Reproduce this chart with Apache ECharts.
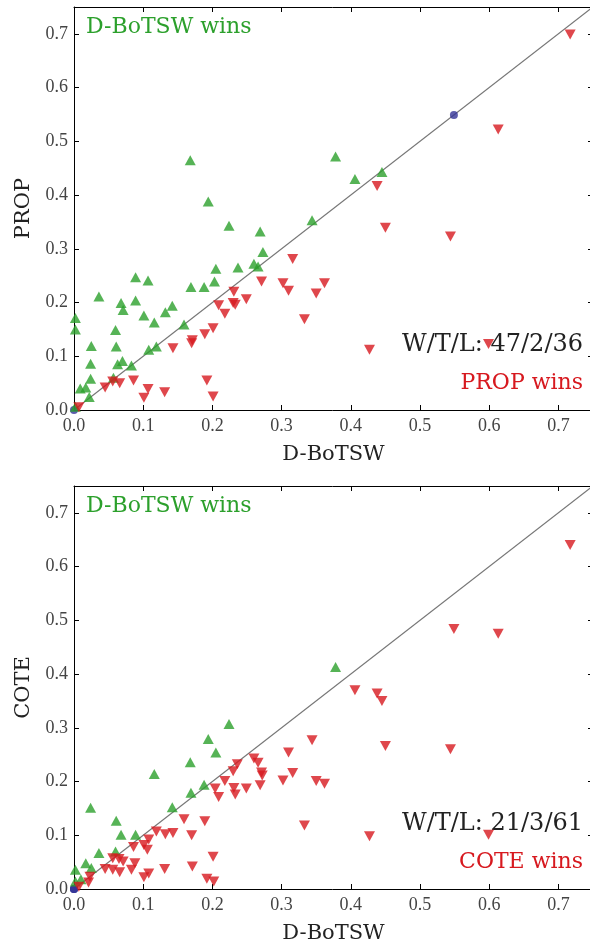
<!DOCTYPE html>
<html><head><meta charset="utf-8">
<script src="https://cdn.jsdelivr.net/npm/echarts@6/dist/echarts.min.js"></script>
<style>html,body{margin:0;padding:0;background:#fff}#c{width:590px;height:944px}</style>
</head><body><div id="c"></div>
<script>
// ---- data: [D-BoTSW, other] ----
const propTop_dboWins = [
 [0.194,0.388],[0.224,0.343],[0.269,0.332],[0.344,0.353],[0.273,0.294],[0.260,0.272],[0.266,0.267],
 [0.237,0.265],[0.205,0.263],[0.203,0.239],[0.169,0.229],[0.188,0.229],[0.089,0.247],[0.107,0.241],
 [0.036,0.211],[0.089,0.204],[0.068,0.199],[0.071,0.186],[0.142,0.194],[0.132,0.182],[0.101,0.176],
 [0.116,0.163],[0.159,0.159],[0.060,0.149],[0.002,0.171],[0.002,0.150],[0.025,0.119],[0.061,0.118],
 [0.108,0.112],[0.119,0.118],[0.024,0.086],[0.063,0.085],[0.070,0.091],[0.083,0.083],[0.057,0.060],
 [0.009,0.040],[0.017,0.042],[0.024,0.058],[0.022,0.024],[0.002,0.006],[0.168,0.465],[0.378,0.472],
 [0.406,0.430],[0.445,0.443]
];
const propTop_ties = [[0.0,0.0],[0.549,0.549]];
const propTop_propWins = [
 [0.316,0.281],[0.271,0.239],[0.302,0.236],[0.310,0.222],[0.350,0.217],[0.362,0.236],[0.333,0.169],
 [0.231,0.220],[0.249,0.206],[0.230,0.199],[0.233,0.196],[0.209,0.195],[0.218,0.179],[0.201,0.152],
 [0.189,0.141],[0.171,0.130],[0.170,0.124],[0.143,0.115],[0.086,0.055],[0.107,0.039],[0.101,0.023],
 [0.131,0.033],[0.192,0.055],[0.201,0.025],[0.045,0.042],[0.056,0.053],[0.066,0.050],[0.007,0.005],
 [0.717,0.699],[0.613,0.522],[0.438,0.417],[0.450,0.339],[0.544,0.323],[0.427,0.112],[0.599,0.123]
];
const coteBot_dboWins = [
 [0.224,0.307],[0.194,0.279],[0.205,0.254],[0.168,0.236],[0.116,0.214],[0.188,0.194],[0.169,0.179],
 [0.142,0.152],[0.024,0.151],[0.061,0.127],[0.068,0.101],[0.089,0.101],[0.036,0.067],[0.060,0.070],
 [0.017,0.048],[0.025,0.039],[0.002,0.036],[0.010,0.018],[0.002,0.014],[0.378,0.413]
];
const coteBot_ties = [[0.0,0.0],[0.0,0.0],[0.0,0.0]];
const coteBot_coteWins = [
 [0.344,0.277],[0.310,0.254],[0.260,0.243],[0.266,0.235],[0.236,0.232],[0.230,0.219],[0.271,0.217],
 [0.272,0.211],[0.316,0.216],[0.302,0.202],[0.350,0.201],[0.362,0.196],[0.218,0.201],[0.269,0.193],
 [0.204,0.187],[0.231,0.188],[0.249,0.187],[0.233,0.176],[0.209,0.171],[0.333,0.118],[0.159,0.130],
 [0.189,0.126],[0.119,0.107],[0.132,0.102],[0.143,0.104],[0.170,0.100],[0.108,0.092],[0.101,0.082],
 [0.106,0.073],[0.086,0.078],[0.056,0.057],[0.065,0.056],[0.071,0.051],[0.088,0.048],[0.201,0.060],
 [0.045,0.037],[0.056,0.036],[0.066,0.031],[0.083,0.036],[0.171,0.042],[0.131,0.037],[0.108,0.029],
 [0.101,0.022],[0.192,0.019],[0.202,0.014],[0.023,0.023],[0.021,0.012],[0.007,0.004],
 [0.717,0.640],[0.549,0.484],[0.613,0.475],[0.406,0.370],[0.438,0.364],[0.445,0.350],[0.450,0.266],
 [0.544,0.260],[0.427,0.098],[0.599,0.101]
];
const diagonal = [[0,0],[0.75,0.75]];
const axisMin = 0, axisMax = 0.75, tickStep = 0.1;
const xName = 'D-BoTSW';
const yNames = ['PROP','COTE'];
const wtl = ['W/T/L: 47/2/36','W/T/L: 21/3/61'];
const winLabels = ['D-BoTSW wins', ['PROP wins','COTE wins']];

const FONT = 'Liberation Serif';
const FONT2 = 'DejaVu Serif';
const GREEN = '#2ca02c', RED = '#d7191f', BLUE = '#353597';
const TRI_UP = 'path://M0,-1L1,0.8L-1,0.8Z';
const TRI_DN = 'path://M0,1L1,-0.8L-1,-0.8Z';

const grids = [
  {left:74, top:7, width:519, height:403, outerBoundsMode:'none', containLabel:false},
  {left:74, top:486, width:519, height:403, outerBoundsMode:'none', containLabel:false}
];
const xAxes = [], yAxes = [], series = [];
grids.forEach((g, i) => {
  const base = {min:axisMin, max:axisMax, interval:tickStep, gridIndex:i,
    splitLine:{show:false},
    axisLine:{show:true, onZero:false, lineStyle:{color:'#000', width:1}},
    axisTick:{show:true, inside:true, length:5, lineStyle:{color:'#000', width:1}}};
  xAxes.push(Object.assign({}, base, {type:'value', position:'bottom', name:xName,
    nameLocation:'middle', nameGap:34,
    nameTextStyle:{fontFamily:FONT2, fontSize:21, color:'#222'},
    axisLabel:{show:true, fontFamily:FONT, fontSize:18, color:'#444', margin:7,
      showMaxLabel:false, formatter:v=>v.toFixed(1)}}));
  xAxes.push(Object.assign({}, base, {type:'value', position:'top', axisLabel:{show:false}}));
  yAxes.push(Object.assign({}, base, {type:'value', position:'left', name:yNames[i],
    nameLocation:'middle', nameGap:40, nameRotate:90,
    nameTextStyle:{fontFamily:FONT2, fontSize:21, color:'#222'},
    axisLabel:{show:true, fontFamily:FONT, fontSize:18, color:'#444', margin:6,
      showMaxLabel:false, formatter:v=>v.toFixed(1)}}));
  yAxes.push(Object.assign({}, base, {type:'value', position:'right', axisLabel:{show:false}}));
});
const sets = [
  [propTop_dboWins, propTop_ties, propTop_propWins],
  [coteBot_dboWins, coteBot_ties, coteBot_coteWins]
];
sets.forEach((s, i) => {
  const xi = i*2, yi = i*2;
  series.push({type:'line', xAxisIndex:xi, yAxisIndex:yi, data:diagonal, symbol:'none',
    lineStyle:{color:'#777', width:1.2}, z:1, silent:true, animation:false});
  series.push({type:'scatter', xAxisIndex:xi, yAxisIndex:yi, data:s[1], symbol:'circle',
    symbolSize:8, itemStyle:{color:BLUE}, z:2});
  series.push({type:'scatter', xAxisIndex:xi, yAxisIndex:yi, data:s[0], symbol:TRI_UP,
    symbolSize:[11,10], itemStyle:{color:GREEN}, z:3});
  series.push({type:'scatter', xAxisIndex:xi, yAxisIndex:yi, data:s[2], symbol:TRI_DN,
    symbolSize:[11,10], itemStyle:{color:RED}, z:3});
});
const gtext = [];
grids.forEach((g, i) => {
  gtext.push({type:'text', left:86, top:g.top+9, style:{text:winLabels[0], fontFamily:FONT2, fontSize:22, fill:GREEN}});
  gtext.push({type:'text', right:7, top:g.top+326, style:{text:wtl[i], fontFamily:FONT2, fontSize:24, fill:'#222'}});
  gtext.push({type:'text', right:7, top:g.top+365, style:{text:winLabels[1][i], fontFamily:FONT2, fontSize:22, fill:RED}});
});
const chart = echarts.init(document.getElementById('c'), null, {renderer:'canvas'});
chart.setOption({animation:false, grid:grids, xAxis:xAxes, yAxis:yAxes, series:series, graphic:gtext});
</script></body></html>
